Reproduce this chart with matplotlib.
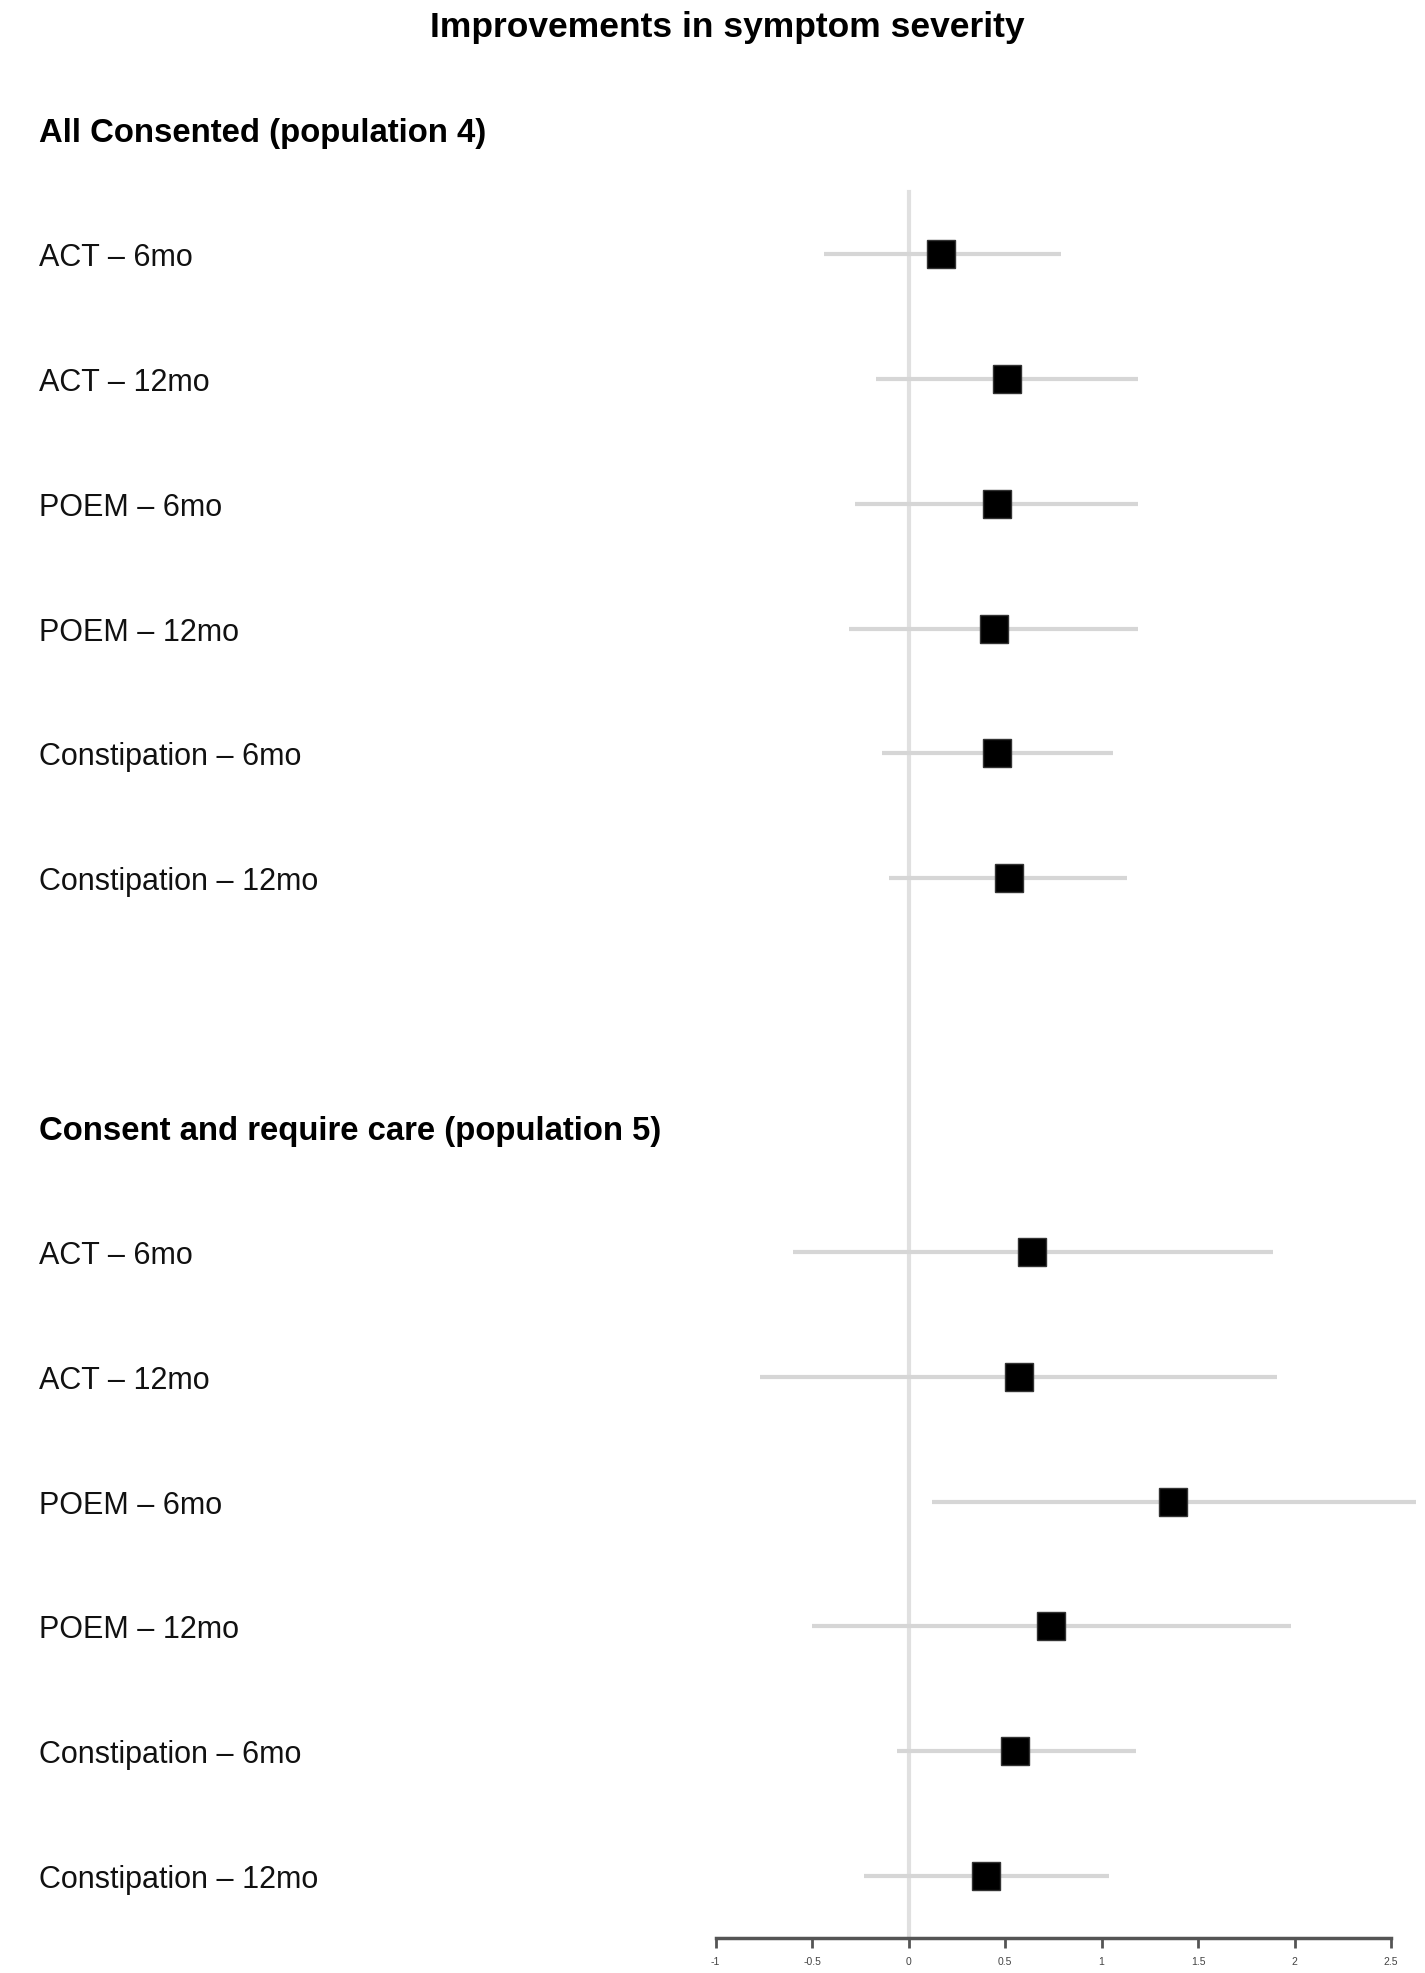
import matplotlib
matplotlib.use("Agg")
import matplotlib.pyplot as plt
from matplotlib.transforms import blended_transform_factory, offset_copy

plt.rcParams["font.family"] = ["Liberation Sans", "DejaVu Sans"]
plt.rcParams["axes.unicode_minus"] = False

# rows: group headers and outcomes
group_titles = ["All Consented (population 4)", "Consent and require care (population 5)"]
outcomes = ["ACT – 6mo", "ACT – 12mo", "POEM – 6mo", "POEM – 12mo",
            "Constipation – 6mo", "Constipation – 12mo"]

# population 4
est_pop4 = [0.17, 0.51, 0.46, 0.44, 0.46, 0.52]
low_pop4 = [-0.44, -0.17, -0.28, -0.31, -0.14, -0.10]
high_pop4 = [0.79, 1.19, 1.19, 1.19, 1.06, 1.13]

# population 5
est_pop5 = [0.64, 0.57, 1.37, 0.74, 0.55, 0.40]
low_pop5 = [-0.60, -0.77, 0.12, -0.50, -0.06, -0.23]
high_pop5 = [1.89, 1.91, 2.63, 1.98, 1.18, 1.04]

xticks = [-1, -0.5, 0, 0.5, 1, 1.5, 2, 2.5]
xticklabels = ["-1", "-0.5", "0", "0.5", "1", "1.5", "2", "2.5"]

W, H = 1425, 1974
fig = plt.figure(figsize=(W / 100, H / 100), dpi=100)

xlim = (-1.05, 2.65)
left_px, right_px = 706, 1420
top_px, bottom_px = 193, 1939
ax = fig.add_axes([left_px / W, 1 - bottom_px / H,
                   (right_px - left_px) / W, (bottom_px - top_px) / H])
ax.set_xlim(*xlim)
ax.set_ylim(14.5, 0.5)

line_grey = "#d6d6d6"
ax.plot([0, 0], [0.5, 14.5], color="#e0e0e0", lw=3, zorder=1, clip_on=False)

lab_tr = blended_transform_factory(fig.transFigure, ax.transData)
lab_tr = offset_copy(lab_tr, fig=fig, x=0, y=-3, units="dots")
x_lab = 39 / W

groups = [(est_pop4, low_pop4, high_pop4), (est_pop5, low_pop5, high_pop5)]
for g, (est, low, high) in enumerate(groups):
    head = g * 8
    ax.text(x_lab, head, group_titles[g], transform=lab_tr, fontsize=23.7,
            fontweight="bold", va="center", ha="left", clip_on=False)
    for i, name in enumerate(outcomes):
        y = head + 1 + i
        ax.text(x_lab, y, name, transform=lab_tr, fontsize=22,
                va="center", ha="left", color="#111111", clip_on=False)
        ax.plot([low[i], high[i]], [y, y], color=line_grey, lw=3,
                solid_capstyle="butt", zorder=2, clip_on=False)
        ax.plot(est[i], y, marker="s", ms=19.5, color="black",
                markeredgecolor="#333333", markeredgewidth=1, zorder=3,
                clip_on=False)

for s in ["top", "right", "left"]:
    ax.spines[s].set_visible(False)
ax.spines["bottom"].set_bounds(-1, 2.5)
ax.spines["bottom"].set_color("#555555")
ax.spines["bottom"].set_linewidth(2.5)
ax.set_yticks([])
ax.set_xticks(xticks)
ax.set_xticklabels(xticklabels)
ax.tick_params(axis="x", length=7, width=2, color="#555555",
               labelsize=7.5, labelcolor="#444444", pad=6)

fig.text(727 / W, 1 - 27 / H, "Improvements in symptom severity",
         fontsize=25.5, fontweight="bold", ha="center", va="center")

fig.savefig("out.png", dpi=100, facecolor="white")
